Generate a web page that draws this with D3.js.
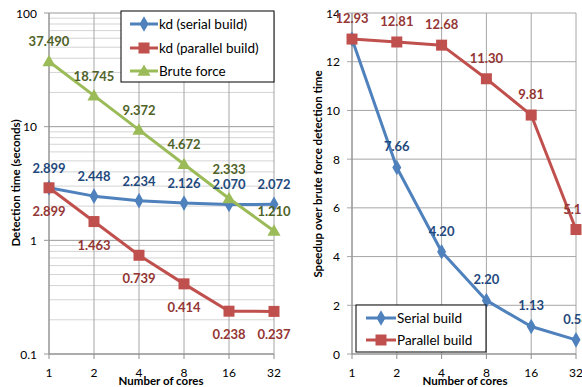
<!DOCTYPE html>
<html>
<head>
<meta charset="utf-8">
<script src="https://cdn.jsdelivr.net/npm/d3@7"></script>
<style>
  html, body { margin: 0; padding: 0; background: #fff; }
  svg { display: block; font-family: Lato, "Liberation Sans", sans-serif; }
</style>
</head>
<body>
<svg id="chart" width="582" height="387"></svg>
<script>
// Number of cores on the category axis
const cores = ["1", "2", "4", "8", "16", "32"];

// Detection time in seconds (log scale)
const kdSerialTime   = [2.899, 2.448, 2.234, 2.126, 2.070, 2.072];
const kdParallelTime = [2.899, 1.463, 0.739, 0.414, 0.238, 0.237];
const bruteTime      = [37.490, 18.745, 9.372, 4.672, 2.333, 1.210];

// Speedup over brute force detection time
const serialSpeedup   = [12.93, 7.66, 4.20, 2.20, 1.13, 0.58];
const parallelSpeedup = [12.93, 12.81, 12.68, 11.30, 9.81, 5.11];

// Tick values
const logTicks = [0.1, 1, 10, 100];
const speedTicks = [0, 2, 4, 6, 8, 10, 12, 14];

const BLUE = "#4F81BD", RED = "#C0504D", GREEN = "#9BBB59";
const BLUE_T = "#1F497D", RED_T = "#943634", GREEN_T = "#4F6228";

const svg = d3.select("#chart");

function marker(g, shape, color, x, y) {
  if (shape === "diamond") {
    g.append("path").attr("d", d3.symbol(d3.symbolDiamond, 70)())
      .attr("transform", `translate(${x},${y})`).attr("fill", color);
  } else if (shape === "square") {
    g.append("rect").attr("x", x - 5.5).attr("y", y - 5.5)
      .attr("width", 11).attr("height", 11).attr("fill", color);
  } else {
    g.append("path").attr("d", d3.symbol(d3.symbolTriangle, 75)())
      .attr("transform", `translate(${x},${y + 1})`).attr("fill", color);
  }
}

function drawSeries(g, x, y, values, color, shape, labelColor, fmt, dy, skip) {
  const line = d3.line().x((d, i) => x(cores[i])).y(d => y(d));
  g.append("path").datum(values).attr("d", line)
    .attr("fill", "none").attr("stroke", color).attr("stroke-width", 3)
    .attr("stroke-linejoin", "round");
  values.forEach((v, i) => marker(g, shape, color, x(cores[i]), y(v)));
  return () => values.forEach((v, i) => {
    if (skip && skip.includes(i)) return;
    const off = typeof dy === "function" ? dy(i) : dy;
    g.append("text").attr("x", x(cores[i])).attr("y", y(v) + off)
      .attr("text-anchor", "middle").attr("dominant-baseline", "central")
      .attr("font-size", 13).attr("font-weight", "bold")
      .attr("fill", labelColor).text(fmt(v));
  });
}

function xAxis(g, x, y0) {
  cores.forEach(c => {
    g.append("line").attr("x1", x(c)).attr("x2", x(c)).attr("y1", y0).attr("y2", y0 + 5)
      .attr("stroke", "#8C8C8C");
    g.append("text").attr("x", x(c)).attr("y", y0 + 23).attr("text-anchor", "middle")
      .attr("font-size", 12).attr("fill", "#000").text(c);
  });
}

function legend(g, x0, y0, w, h, items) {
  g.append("rect").attr("x", x0).attr("y", y0).attr("width", w).attr("height", h)
    .attr("fill", "#fff").attr("stroke", "#000").attr("stroke-width", 1);
  items.forEach(it => {
    g.append("line").attr("x1", it.lx1).attr("x2", it.lx2).attr("y1", it.y).attr("y2", it.y)
      .attr("stroke", it.color).attr("stroke-width", 3);
    marker(g, it.shape, it.color, (it.lx1 + it.lx2) / 2, it.y);
    g.append("text").attr("x", it.lx2 + 1).attr("y", it.y).attr("dominant-baseline", "central")
      .attr("font-size", 13.5).attr("fill", "#000").text(it.label);
  });
}

// ---------- Left panel: detection time ----------
{
  const g = svg.append("g");
  const x = d3.scalePoint(cores, [49, 274]);
  const y = d3.scaleLog([0.1, 100], [354, 13]);

  // minor log gridlines
  const minor = [];
  [0.1, 1, 10].forEach(dec => { for (let k = 2; k <= 9; k++) minor.push(dec * k); });
  g.selectAll(".minor").data(minor).join("line")
    .attr("x1", 49).attr("x2", 274).attr("y1", d => y(d)).attr("y2", d => y(d))
    .attr("stroke", "#D4D4D4");
  g.selectAll(".major").data(logTicks).join("line")
    .attr("x1", 44).attr("x2", 274).attr("y1", d => y(d)).attr("y2", d => y(d))
    .attr("stroke", "#999");
  g.selectAll(".vgrid").data(cores).join("line")
    .attr("x1", d => x(d)).attr("x2", d => x(d)).attr("y1", 13).attr("y2", 354)
    .attr("stroke", "#A6A6A6");
  g.append("line").attr("x1", 49).attr("x2", 49).attr("y1", 13).attr("y2", 354).attr("stroke", "#8C8C8C");
  g.append("line").attr("x1", 49).attr("x2", 274).attr("y1", 354).attr("y2", 354).attr("stroke", "#8C8C8C");

  g.selectAll(".ylab").data(logTicks).join("text")
    .attr("x", 37).attr("y", d => y(d)).attr("text-anchor", "end")
    .attr("dominant-baseline", "central").attr("font-size", 12).attr("fill", "#000")
    .text(d => String(d));
  xAxis(g, x, 354);

  const f3 = d3.format(".3f");
  const l1 = drawSeries(g, x, y, kdSerialTime, BLUE, "diamond", BLUE_T, f3, -20);
  const l2 = drawSeries(g, x, y, kdParallelTime, RED, "square", RED_T, f3, 23);
  const l3 = drawSeries(g, x, y, bruteTime, GREEN, "triangle", GREEN_T, f3, i => i === 4 ? -30 : -20);
  l1(); l2(); l3();

  legend(g, 121, 11, 153, 71, [
    { label: "kd (serial build)", color: BLUE, shape: "diamond", lx1: 130, lx2: 158, y: 24 },
    { label: "kd (parallel build)", color: RED, shape: "square", lx1: 130, lx2: 158, y: 48 },
    { label: "Brute force", color: GREEN, shape: "triangle", lx1: 130, lx2: 158, y: 71 }
  ]);

  g.append("text").attr("x", 161).attr("y", 380).attr("text-anchor", "middle")
    .attr("dominant-baseline", "central").attr("font-size", 11.5).attr("font-weight", "bold")
    .text("Number of cores");
  g.append("text").attr("transform", "translate(15,183) rotate(-90)")
    .attr("text-anchor", "middle").attr("dominant-baseline", "central")
    .attr("font-size", 11.5).attr("font-weight", "bold").text("Detection time (seconds)");
}

// ---------- Right panel: speedup ----------
{
  const g = svg.append("g");
  const x = d3.scalePoint(cores, [352, 576]);
  const y = d3.scaleLinear([0, 14], [354, 13]);

  g.selectAll(".hgrid").data(speedTicks).join("line")
    .attr("x1", 347).attr("x2", 576).attr("y1", d => y(d)).attr("y2", d => y(d))
    .attr("stroke", "#A6A6A6");
  g.selectAll(".vgrid").data(cores).join("line")
    .attr("x1", d => x(d)).attr("x2", d => x(d)).attr("y1", 13).attr("y2", 354)
    .attr("stroke", "#A6A6A6");
  g.append("line").attr("x1", 352).attr("x2", 352).attr("y1", 13).attr("y2", 354).attr("stroke", "#8C8C8C");
  g.append("line").attr("x1", 352).attr("x2", 576).attr("y1", 354).attr("y2", 354).attr("stroke", "#8C8C8C");

  g.selectAll(".ylab").data(speedTicks).join("text")
    .attr("x", 340).attr("y", d => y(d)).attr("text-anchor", "end")
    .attr("dominant-baseline", "central").attr("font-size", 12).attr("fill", "#000")
    .text(d => String(d));
  xAxis(g, x, 354);

  const f2 = d3.format(".2f");
  const r1 = drawSeries(g, x, y, serialSpeedup, BLUE, "diamond", BLUE_T, f2, -21, [0]);
  const r2 = drawSeries(g, x, y, parallelSpeedup, RED, "square", RED_T, f2, -21);
  r1(); r2();

  legend(g, 356, 305, 130, 47, [
    { label: "Serial build", color: BLUE, shape: "diamond", lx1: 366, lx2: 396, y: 318 },
    { label: "Parallel build", color: RED, shape: "square", lx1: 366, lx2: 396, y: 340 }
  ]);

  g.append("text").attr("x", 465).attr("y", 380).attr("text-anchor", "middle")
    .attr("dominant-baseline", "central").attr("font-size", 11.5).attr("font-weight", "bold")
    .text("Number of cores");
  g.append("text").attr("transform", "translate(317,174) rotate(-90)")
    .attr("text-anchor", "middle").attr("dominant-baseline", "central")
    .attr("font-size", 11.5).attr("font-weight", "bold").text("Speedup over brute force detection time");
}
</script>
</body>
</html>
